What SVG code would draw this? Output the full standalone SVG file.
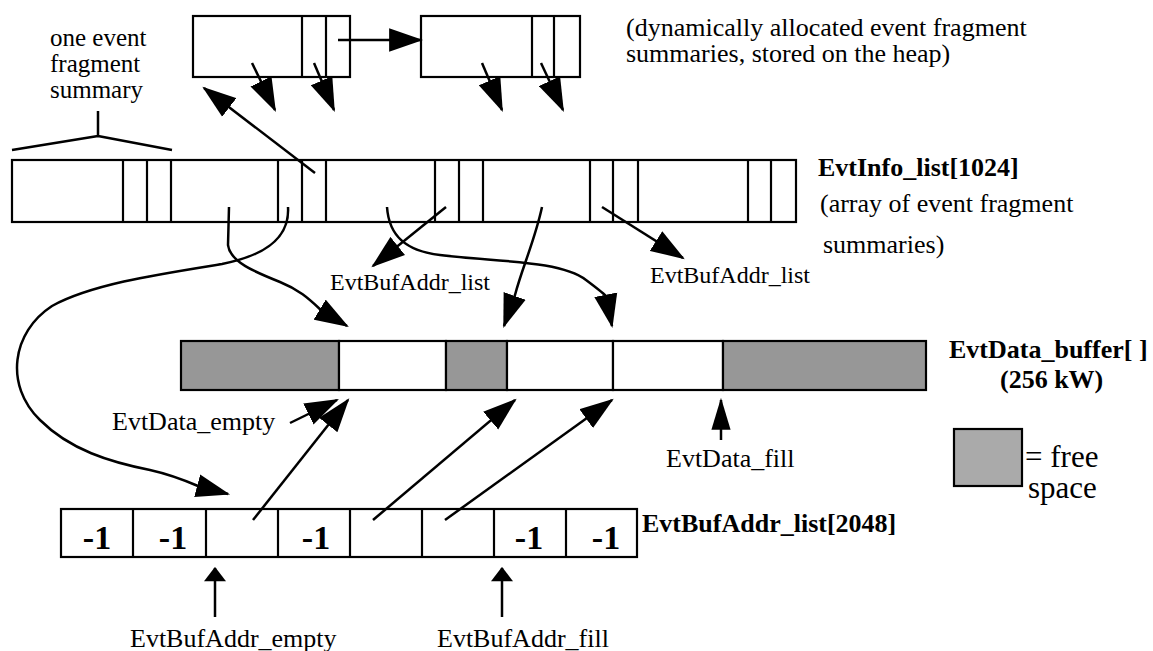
<svg xmlns="http://www.w3.org/2000/svg" width="1153" height="651" viewBox="0 0 1153 651">
<style>
.box{fill:#fff;stroke:#000;stroke-width:2.2}
.gray{fill:#979797;stroke:#000;stroke-width:2.2}
.div{stroke:#000;stroke-width:2.2}
.con{fill:none;stroke:#000;stroke-width:2.5;stroke-linejoin:round}
.t{font-family:"Liberation Serif","Times New Roman",serif;font-size:26px;fill:#000}
.b{font-family:"Liberation Serif","Times New Roman",serif;font-size:26px;font-weight:bold;fill:#000}
.m{font-family:"Liberation Serif","Times New Roman",serif;font-size:34px;font-weight:bold;fill:#000;text-anchor:middle}
</style>
<defs>
<marker id="ah" markerUnits="userSpaceOnUse" markerWidth="34" markerHeight="24" viewBox="0 0 32 22" refX="30" refY="11" orient="auto"><path d="M0,0 L32,11 L0,22 z" fill="#000"/></marker>
<marker id="an" markerUnits="userSpaceOnUse" markerWidth="32" markerHeight="20" viewBox="0 0 30 18" refX="28" refY="9" orient="auto"><path d="M0,0 L30,9 L0,18 z" fill="#000"/></marker>
<marker id="as" markerUnits="userSpaceOnUse" markerWidth="15" markerHeight="22" viewBox="0 0 13 20" refX="12" refY="10" orient="auto"><path d="M0,0 L13,10 L0,20 z" fill="#000"/></marker>
</defs>

<g id="heap1">
<rect class="box" x="193" y="16" width="157" height="61"/>
<line class="div" x1="302" y1="16" x2="302" y2="77"/>
<line class="div" x1="326" y1="16" x2="326" y2="77"/>
</g>
<g id="heap2">
<rect class="box" x="421" y="16" width="159" height="61"/>
<line class="div" x1="532" y1="16" x2="532" y2="77"/>
<line class="div" x1="554" y1="16" x2="554" y2="77"/>
</g>
<g id="heap-label">
<text class="t" x="626" y="36">(dynamically allocated event fragment</text>
<text class="t" x="626" y="62">summaries, stored on the heap)</text>
</g>

<g id="summary-label">
<text class="t" x="50" y="46" style="font-size:25px">one event</text>
<text class="t" x="50" y="72" style="font-size:25px">fragment</text>
<text class="t" x="50" y="98" style="font-size:25px">summary</text>
<path class="con" d="M98,111 L98,136 M12,150 L98,136 L172,150"/>
</g>

<g id="evtinfo">
<rect class="box" x="12" y="160" width="784" height="62"/>
<g class="div">
<line x1="123" y1="160" x2="123" y2="222"/><line x1="147" y1="160" x2="147" y2="222"/><line x1="171" y1="160" x2="171" y2="222"/>
<line x1="278" y1="160" x2="278" y2="222"/><line x1="302" y1="160" x2="302" y2="222"/><line x1="326" y1="160" x2="326" y2="222"/>
<line x1="435" y1="160" x2="435" y2="222"/><line x1="459" y1="160" x2="459" y2="222"/><line x1="483" y1="160" x2="483" y2="222"/>
<line x1="590" y1="160" x2="590" y2="222"/><line x1="613" y1="160" x2="613" y2="222"/><line x1="638" y1="160" x2="638" y2="222"/>
<line x1="748" y1="160" x2="748" y2="222"/><line x1="771" y1="160" x2="771" y2="222"/>
</g>
<text class="b" x="818" y="176">EvtInfo_list[1024]</text>
<text class="t" x="820" y="212">(array of event fragment</text>
<text class="t" x="823" y="253">summaries)</text>
</g>

<g id="evtdata">
<rect class="gray" x="181" y="341" width="158" height="49"/>
<rect class="box" x="339" y="341" width="107" height="49"/>
<rect class="gray" x="446" y="341" width="61" height="49"/>
<rect class="box" x="507" y="341" width="106" height="49"/>
<rect class="box" x="613" y="341" width="110" height="49"/>
<rect class="gray" x="723" y="341" width="203" height="49"/>
<text class="b" x="949" y="358">EvtData_buffer[ ]</text>
<text class="b" x="1000" y="388">(256 kW)</text>
</g>

<g id="legend">
<rect x="954" y="429" width="68" height="57" fill="#aaaaaa" stroke="#000" stroke-width="2.2"/>
<text class="t" x="1025" y="467" style="font-size:31px">= free</text>
<text class="t" x="1028" y="498" style="font-size:31px">space</text>
</g>

<g id="evtbufaddr">
<rect class="box" x="61" y="509" width="576" height="48"/>
<g class="div">
<line x1="133" y1="509" x2="133" y2="557"/><line x1="206" y1="509" x2="206" y2="557"/><line x1="278" y1="509" x2="278" y2="557"/>
<line x1="350" y1="509" x2="350" y2="557"/><line x1="422" y1="509" x2="422" y2="557"/><line x1="494" y1="509" x2="494" y2="557"/>
<line x1="566" y1="509" x2="566" y2="557"/>
</g>
<text class="m" x="97" y="549">-1</text>
<text class="m" x="173" y="549">-1</text>
<text class="m" x="316" y="549">-1</text>
<text class="m" x="529" y="549">-1</text>
<text class="m" x="606" y="549">-1</text>
<text class="b" x="642" y="532">EvtBufAddr_list[2048]</text>
</g>

<g id="pointer-labels">
<text class="t" x="330" y="290" style="font-size:24px">EvtBufAddr_list</text>
<text class="t" x="650" y="283" style="font-size:24px">EvtBufAddr_list</text>
<text class="t" x="112" y="430">EvtData_empty</text>
<text class="t" x="666" y="467">EvtData_fill</text>
<text class="t" x="130" y="647">EvtBufAddr_empty</text>
<text class="t" x="437" y="647">EvtBufAddr_fill</text>
</g>

<g id="connectors">
<path class="con" d="M338,40 L421,40" marker-end="url(#ah)"/>
<path class="con" d="M252,63 L275,110" marker-end="url(#ah)"/>
<path class="con" d="M314,63 L334,110" marker-end="url(#ah)"/>
<path class="con" d="M482,63 L502,110" marker-end="url(#ah)"/>
<path class="con" d="M541,63 L563,110" marker-end="url(#ah)"/>
<path class="con" d="M315,173 L204,88" marker-end="url(#ah)"/>
<path class="con" d="M229,207 L228,245 C230,262 255,272 280,282 C300,290 310,300 322,311 L347,326" marker-end="url(#ah)"/>
<path class="con" d="M288,207 C290,240 262,256 222,264 C160,274 92,284 52,306 C12,332 4,385 40,420 C70,450 110,462 150,470 C168,474 184,480 198,486 L228,494" marker-end="url(#ah)"/>
<path class="con" d="M446,207 L373,266" marker-end="url(#ah)"/>
<path class="con" d="M387,207 C389,236 406,251 440,255 C495,262 560,260 586,280 C598,289 604,294 606,296 L612,326" marker-end="url(#ah)"/>
<path class="con" d="M542,207 C535,240 522,268 515,295 L504,326" marker-end="url(#ah)"/>
<path class="con" d="M602,207 L683,258" marker-end="url(#ah)"/>
<path class="con" d="M290,423 L337,400" marker-end="url(#ah)"/>
<path class="con" d="M253,520 L348,400" marker-end="url(#ah)"/>
<path class="con" d="M373,520 L515,400" marker-end="url(#ah)"/>
<path class="con" d="M445,520 L612,400" marker-end="url(#ah)"/>
<path class="con" d="M721,440 L721,400" marker-end="url(#an)"/>
<path class="con" d="M215,617 L215,568" marker-end="url(#as)"/>
<path class="con" d="M502,617 L502,568" marker-end="url(#as)"/>
</g>
</svg>
